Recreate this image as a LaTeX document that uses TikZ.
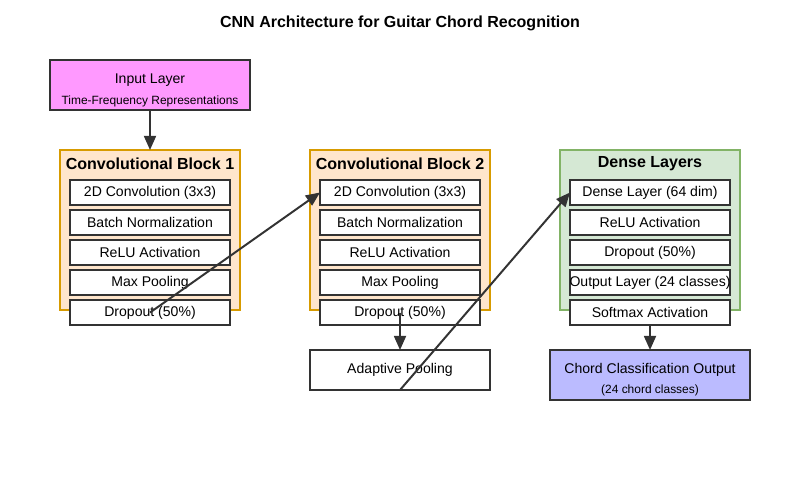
\documentclass[tikz,border=0pt]{standalone}
\usepackage{fontspec}
\setmainfont{Liberation Sans}
\usetikzlibrary{positioning}
\usetikzlibrary{arrows.meta}
\definecolor{edge}{HTML}{333333}
\definecolor{inputfill}{HTML}{FF99FF}
\definecolor{convfill}{HTML}{FFE6CC}
\definecolor{convline}{HTML}{D79B00}
\definecolor{densefill}{HTML}{D5E8D4}
\definecolor{denseline}{HTML}{82B366}
\definecolor{outfill}{HTML}{BBBBFF}
\tikzset{
  layer/.style={draw=edge, fill=white, line width=1.4pt, minimum width=4cm,
    minimum height=0.625cm, inner sep=0pt, outer sep=0pt,
    font=\fontsize{10}{12}\selectfont},
  block/.style={line width=1.4pt, minimum width=4.5cm, minimum height=4cm,
    inner sep=0pt, outer sep=0pt},
  blocktitle/.style={font=\fontsize{11.4}{13}\selectfont\bfseries},
  bigbox/.style={draw=edge, line width=1.4pt, minimum width=5cm, minimum height=1.25cm,
    inner sep=0pt, outer sep=0pt},
  maintext/.style={font=\fontsize{10}{12}\selectfont, inner sep=0pt},
  subtext/.style={font=\fontsize{8.5}{10}\selectfont, inner sep=0pt},
  flow/.style={->, >={Triangle[length=10pt,width=8.5pt]}, draw=edge, fill=edge, line width=1.4pt},
}
\begin{document}
\begin{tikzpicture}[x=0.025cm, y=-0.025cm]
        \useasboundingbox[fill=white] (0,0) rectangle (800,500);
        % title %
        \node[font=\fontsize{11.4}{13}\selectfont\bfseries] (title) at (400,23) {CNN Architecture for Guitar Chord Recognition};

        % nodes %
        \node[bigbox, fill=inputfill] (inp) at (150,85) {};
        \node[maintext] (inpa) at (150,80) {Input Layer};
        \node[subtext] (inpb) at (150,101) {Time-Frequency Representations};

        % block 1
        \node[block, draw=convline, fill=convfill] (blk1) at (150,230) {};
        \node[blocktitle] (t1) at (150,164) {Convolutional Block 1};
        \node[layer] (c1a) at (150,192.5) {2D Convolution (3x3)};
        \node[layer, below=0.125cm of c1a] (c1b) {Batch Normalization};
        \node[layer, below=0.125cm of c1b] (c1c) {ReLU Activation};
        \node[layer, below=0.125cm of c1c] (c1d) {Max Pooling};
        \node[layer, below=0.125cm of c1d] (c1e) {Dropout (50\%)};

        % block 2
        \node[block, draw=convline, fill=convfill] (blk2) at (400,230) {};
        \node[blocktitle] (t2) at (400,164) {Convolutional Block 2};
        \node[layer] (c2a) at (400,192.5) {2D Convolution (3x3)};
        \node[layer, below=0.125cm of c2a] (c2b) {Batch Normalization};
        \node[layer, below=0.125cm of c2b] (c2c) {ReLU Activation};
        \node[layer, below=0.125cm of c2c] (c2d) {Max Pooling};
        \node[layer, below=0.125cm of c2d] (c2e) {Dropout (50\%)};
        \node[layer, minimum width=4.5cm, minimum height=1cm] (pool) at (400,370) {Adaptive Pooling};

        % dense
        \node[block, draw=denseline, fill=densefill] (blk3) at (650,230) {};
        \node[blocktitle] (t3) at (650,164) {Dense Layers};
        \node[layer] (d1) at (650,192.5) {Dense Layer (64 dim)};
        \node[layer, below=0.125cm of d1] (d2) {ReLU Activation};
        \node[layer, below=0.125cm of d2] (d3) {Dropout (50\%)};
        \node[layer, below=0.125cm of d3] (d4) {\makebox[0pt]{Output Layer (24 classes)}};
        \node[layer, below=0.125cm of d4] (d5) {Softmax Activation};

        \node[bigbox, fill=outfill] (out) at (650,375) {};
        \node[maintext] (outa) at (650,370) {Chord Classification Output};
        \node[subtext] (outb) at (650,390) {(24 chord classes)};

        % edges %
        \draw[flow] (inp) -- (blk1);
        \draw[flow] (c1e.center) -- (c2a.west);
        \draw[flow] (c2e.center) -- (pool);
        \draw[flow] (pool.south) -- (d1.west);
        \draw[flow] (d5) -- (out);
\end{tikzpicture}
\end{document}
